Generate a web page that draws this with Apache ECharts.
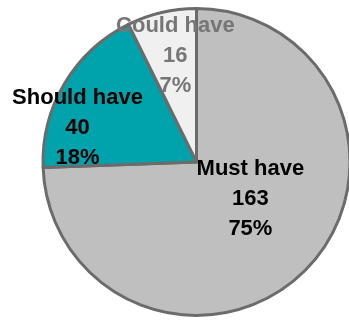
<!DOCTYPE html>
<html>
<head>
<meta charset="utf-8">
<script src="https://cdn.jsdelivr.net/npm/echarts@6/dist/echarts.min.js"></script>
<style>
html,body{margin:0;padding:0;background:#fff;}
#c{width:349px;height:321px;}
</style>
</head>
<body>
<div id="c"></div>
<script>
const categories = ['Must have', 'Should have', 'Could have'];
const counts = [163, 40, 16];
const percentLabels = ['75%', '18%', '7%'];

const sliceColors = ['#BFBFBF', '#00A2AC', '#F0F0F0'];
const labelColors = ['#000000', '#000000', '#767676'];
const labelOffsets = [[-3.5, -18], [-50.5, 7], [-3, -28]];

const chart = echarts.init(document.getElementById('c'), null, {renderer: 'canvas'});
chart.setOption({
  backgroundColor: '#ffffff',
  animation: false,
  series: [{
    type: 'pie',
    center: [196.5, 162],
    radius: [0, 153.5],
    startAngle: 90,
    clockwise: true,
    avoidLabelOverlap: false,
    minShowLabelAngle: 0,
    itemStyle: { borderColor: '#6B6B6B', borderWidth: 3 },
    labelLine: { show: false },
    labelLayout: { hideOverlap: false },
    emphasis: { disabled: true },
    data: categories.map((name, i) => ({
      name: name,
      value: counts[i],
      itemStyle: { color: sliceColors[i] },
      label: {
        show: true,
        position: 'inside',
        offset: labelOffsets[i],
        color: labelColors[i],
        fontFamily: 'Liberation Sans, Arial, sans-serif',
        fontWeight: 'bold',
        fontSize: 22,
        lineHeight: 30,
        align: 'center',
        overflow: 'none',
        formatter: () => name + '\n' + counts[i] + '\n' + percentLabels[i]
      }
    }))
  }]
});
</script>
</body>
</html>
